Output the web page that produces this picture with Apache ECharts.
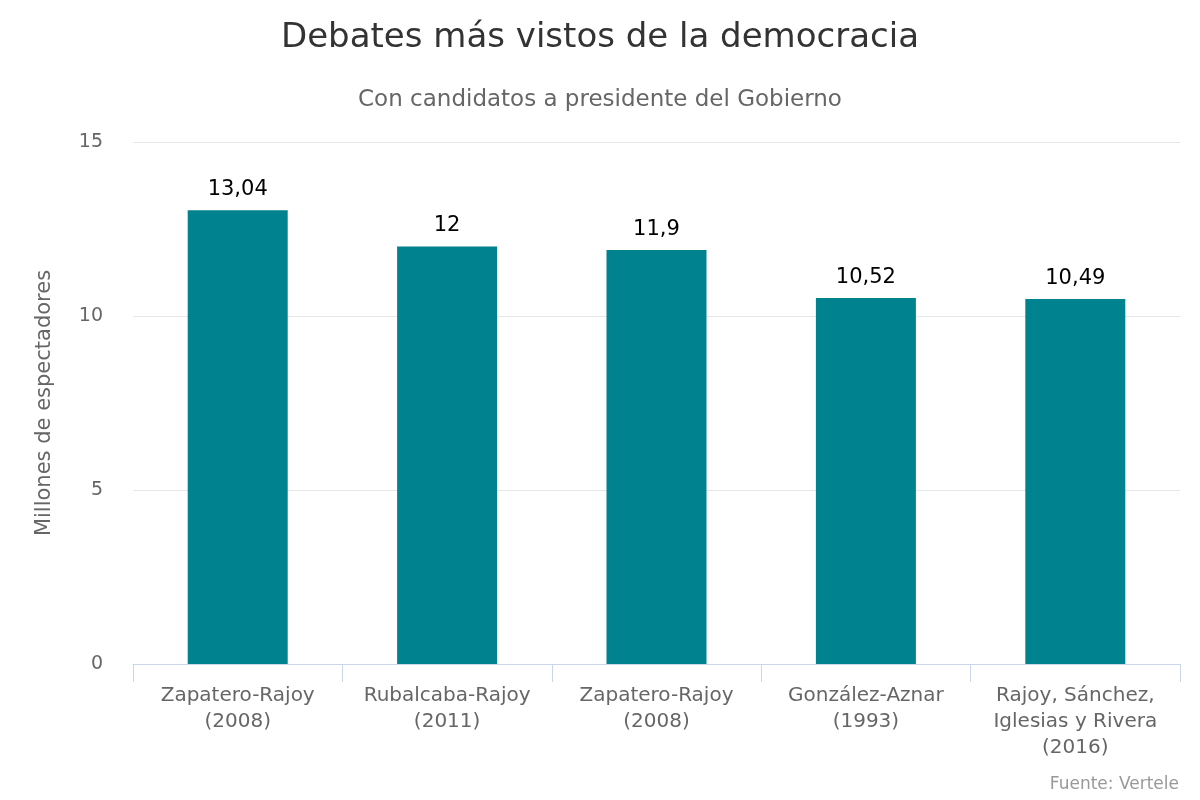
<!DOCTYPE html>
<html><head><meta charset="utf-8">
<script src="https://cdn.jsdelivr.net/npm/echarts@6/dist/echarts.min.js"></script>
<style>html,body{margin:0;padding:0;background:#fff}#c{width:1200px;height:800px}</style>
</head><body><div id="c"></div>
<script>
const categories = ['Zapatero-Rajoy\n(2008)', 'Rubalcaba-Rajoy\n(2011)', 'Zapatero-Rajoy\n(2008)', 'González-Aznar\n(1993)', 'Rajoy, Sánchez,\nIglesias y Rivera\n(2016)'];
const values = [13.04, 12, 11.9, 10.52, 10.49];
const yTicks = [0, 5, 10, 15];

const FONT = 'DejaVu Sans';
const chart = echarts.init(document.getElementById('c'));
chart.setOption({
  animation: false,
  textStyle: { fontFamily: FONT },
  title: [
    { text: 'Debates más vistos de la democracia', left: 'center', top: 16,
      textStyle: { fontFamily: FONT, fontSize: 34, fontWeight: 'normal', color: '#333' } },
    { text: 'Con candidatos a presidente del Gobierno', left: 'center', top: 84,
      textStyle: { fontFamily: FONT, fontSize: 23, fontWeight: 'normal', color: '#666' } },
    { text: 'Fuente: Vertele', right: 16, top: 771,
      textStyle: { fontFamily: FONT, fontSize: 17, fontWeight: 'normal', color: '#999' } }
  ],
  grid: { left: 133, right: 20, top: 142, bottom: 136, containLabel: false },
  xAxis: {
    type: 'category', data: categories,
    axisLine: { lineStyle: { color: '#ccd6eb', width: 1 } },
    axisTick: { show: true, length: 18, lineStyle: { color: '#ccd6eb' } },
    axisLabel: { fontFamily: FONT, fontSize: 20, color: '#666', lineHeight: 26, margin: 19, interval: 0 }
  },
  yAxis: {
    type: 'value', min: yTicks[0], max: yTicks[yTicks.length - 1], interval: 5,
    name: 'Millones de espectadores', nameLocation: 'middle', nameGap: 78, nameRotate: 90,
    nameTextStyle: { fontFamily: FONT, fontSize: 21, color: '#666' },
    axisLine: { show: false }, axisTick: { show: false },
    axisLabel: { fontFamily: FONT, fontSize: 19, color: '#666', margin: 30 },
    splitLine: { lineStyle: { color: '#e6e6e6', width: 1 } }
  },
  series: [{
    type: 'bar', data: values, barWidth: 100,
    itemStyle: { color: '#00828f' },
    label: { show: true, position: 'top', distance: 10, fontFamily: FONT, fontSize: 21,
      color: '#000', fontWeight: 'normal',
      formatter: p => String(p.value).replace('.', ',') }
  }]
});
</script></body></html>
